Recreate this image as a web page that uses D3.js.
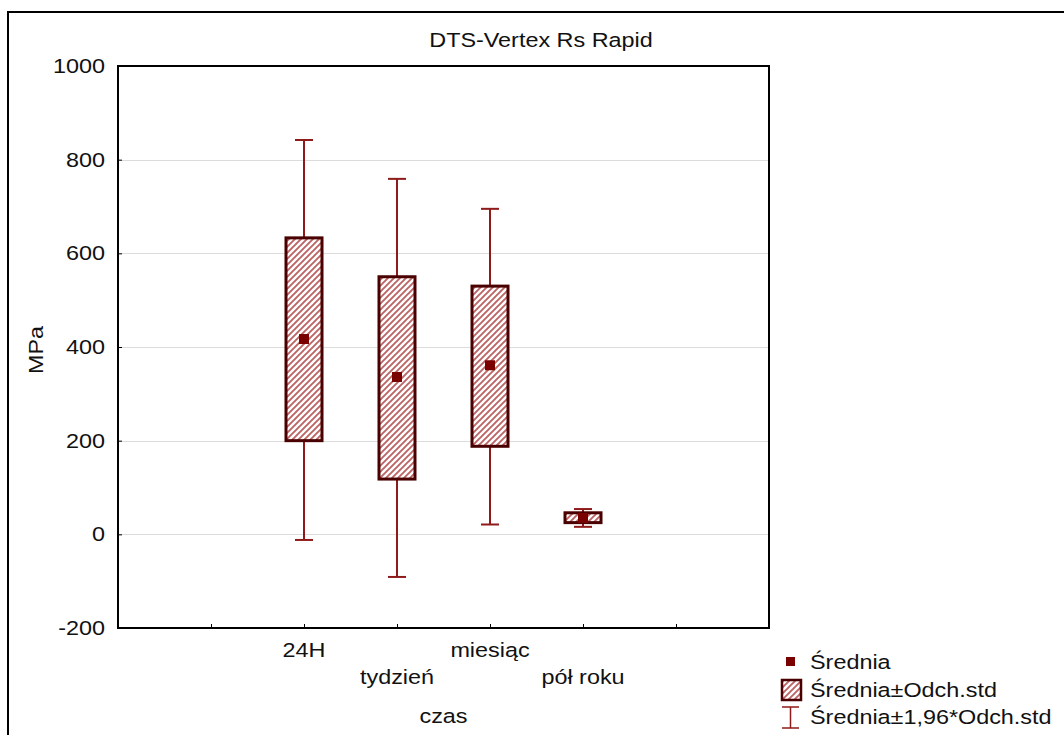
<!DOCTYPE html>
<html>
<head>
<meta charset="utf-8">
<script src="https://cdn.jsdelivr.net/npm/d3@7"></script>
<style>
  html, body { margin: 0; padding: 0; background: #fff; }
  svg { display: block; }
  text { font-family: Arial, "Liberation Sans", sans-serif; fill: #111; }
</style>
</head>
<body>
<svg id="chart" width="1064" height="735"></svg>
<script>
// ---- data ----
const title = "DTS-Vertex Rs Rapid";
const categories = ["24H", "tydzień", "miesiąc", "pół roku"];
const means   = [417, 336, 361, 35];
const sdLow   = [200, 118, 188, 25];
const sdHigh  = [633, 550, 530, 46];
const ciLow   = [-12, -91, 21, 16];
const ciHigh  = [842, 759, 695, 54];
const yTicks  = [-200, 0, 200, 400, 600, 800, 1000];
const yLabel = "MPa";
const xLabel = "czas";
const legendLabels = ["Średnia", "Średnia±Odch.std", "Średnia±1,96*Odch.std"];

// ---- layout ----
const svg = d3.select("#chart");
const pL = 118, pR = 769, pT = 66, pB = 628;
const FS = 19.5, SX = 1.2;
const dark = "#7a0000", boxStroke = "#4a0000", whisk = "#8f1a1a";

const x = d3.scaleLinear().domain([0, 7]).range([pL, pR]);
const y = d3.scaleLinear().domain([-200, 1000]).range([pB, pT]);
const catPos = i => x(i + 2);

function txt(g, xx, yy, s, anchor, rot) {
  return g.append("text")
    .attr("transform", `translate(${xx},${yy})` + (rot ? ` rotate(${rot})` : "") + ` scale(${SX},1)`)
    .attr("text-anchor", anchor || "start")
    .style("font-size", FS + "px")
    .text(s);
}

// pattern
const defs = svg.append("defs");
const pat = defs.append("pattern").attr("id", "hatch")
  .attr("patternUnits", "userSpaceOnUse").attr("width", 6).attr("height", 6);
pat.append("rect").attr("width", 6).attr("height", 6).attr("fill", "#fff");
pat.append("path").attr("d", "M-1,1 l2,-2 M0,6 l6,-6 M5,7 l2,-2")
  .attr("stroke", "#bd6464").attr("stroke-width", 1.9);

// outer frame
svg.append("rect").attr("x", 8).attr("y", 12).attr("width", 1070).attr("height", 740)
  .attr("fill", "none").attr("stroke", "#000").attr("stroke-width", 2);

// gridlines
svg.append("g").selectAll("line").data(yTicks.filter(v => v > -200 && v < 1000)).join("line")
  .attr("x1", pL).attr("x2", pR)
  .attr("y1", d => Math.round(y(d)) + 0.5).attr("y2", d => Math.round(y(d)) + 0.5)
  .attr("stroke", "#dcdcdc").attr("stroke-width", 1);

// axes
const yAxis = d3.axisLeft(y).tickValues(yTicks).tickSize(-4).tickFormat("");
const gy = svg.append("g").attr("transform", `translate(${pL},0)`).call(yAxis);
gy.select(".domain").remove();
gy.selectAll(".tick line").attr("stroke", "#000");
yTicks.forEach(v => {
  txt(svg, pL - 13, y(v) + 7, String(v), "end");
});

const xAxis = d3.axisBottom(x).tickValues([1, 2, 3, 4, 5, 6]).tickSize(-4).tickFormat("");
const gx = svg.append("g").attr("transform", `translate(0,${pB})`).call(xAxis);
gx.select(".domain").remove();
gx.selectAll(".tick line").attr("stroke", "#000");

// plot frame
svg.append("rect").attr("x", pL).attr("y", pT).attr("width", pR - pL).attr("height", pB - pT)
  .attr("fill", "none").attr("stroke", "#000").attr("stroke-width", 2);

// whiskers
const cap = 9, bw = 18;
const wg = svg.append("g");
categories.forEach((c, i) => {
  const cx = catPos(i);
  wg.append("line").attr("x1", cx).attr("x2", cx).attr("y1", y(ciHigh[i])).attr("y2", y(ciLow[i]))
    .attr("stroke", whisk).attr("stroke-width", 2);
  [ciHigh[i], ciLow[i]].forEach(v => {
    wg.append("line").attr("x1", cx - cap).attr("x2", cx + cap).attr("y1", y(v)).attr("y2", y(v))
      .attr("stroke", whisk).attr("stroke-width", 2);
  });
});

// boxes
svg.append("g").selectAll("rect").data(categories).join("rect")
  .attr("x", (d, i) => catPos(i) - bw)
  .attr("y", (d, i) => y(sdHigh[i]))
  .attr("width", bw * 2)
  .attr("height", (d, i) => y(sdLow[i]) - y(sdHigh[i]))
  .attr("fill", "url(#hatch)").attr("stroke", boxStroke).attr("stroke-width", 3);

// means
svg.append("g").selectAll("rect").data(categories).join("rect")
  .attr("x", (d, i) => catPos(i) - 5)
  .attr("y", (d, i) => y(means[i]) - 5)
  .attr("width", 10).attr("height", 10).attr("fill", dark);

// category labels
categories.forEach((c, i) => {
  txt(svg, catPos(i), i % 2 === 0 ? 657 : 684, c, "middle");
});

// titles
txt(svg, 541, 47, title, "middle");
txt(svg, (pL + pR) / 2, 723, xLabel, "middle");
txt(svg, 43, 350, yLabel, "middle", -90);

// legend
const lg = svg.append("g");
lg.append("rect").attr("x", 786).attr("y", 657).attr("width", 9).attr("height", 9).attr("fill", dark);
lg.append("rect").attr("x", 782).attr("y", 680).attr("width", 19).attr("height", 20)
  .attr("fill", "url(#hatch)").attr("stroke", boxStroke).attr("stroke-width", 2.5);
lg.append("line").attr("x1", 790.5).attr("x2", 790.5).attr("y1", 707).attr("y2", 728).attr("stroke", whisk).attr("stroke-width", 1.5);
lg.append("line").attr("x1", 782).attr("x2", 799).attr("y1", 707).attr("y2", 707).attr("stroke", whisk).attr("stroke-width", 1.5);
lg.append("line").attr("x1", 782).attr("x2", 799).attr("y1", 728).attr("y2", 728).attr("stroke", whisk).attr("stroke-width", 1.5);
txt(lg, 810, 669, legendLabels[0], "start");
txt(lg, 810, 697, legendLabels[1], "start");
txt(lg, 810, 724, legendLabels[2], "start");
</script>
</body>
</html>
